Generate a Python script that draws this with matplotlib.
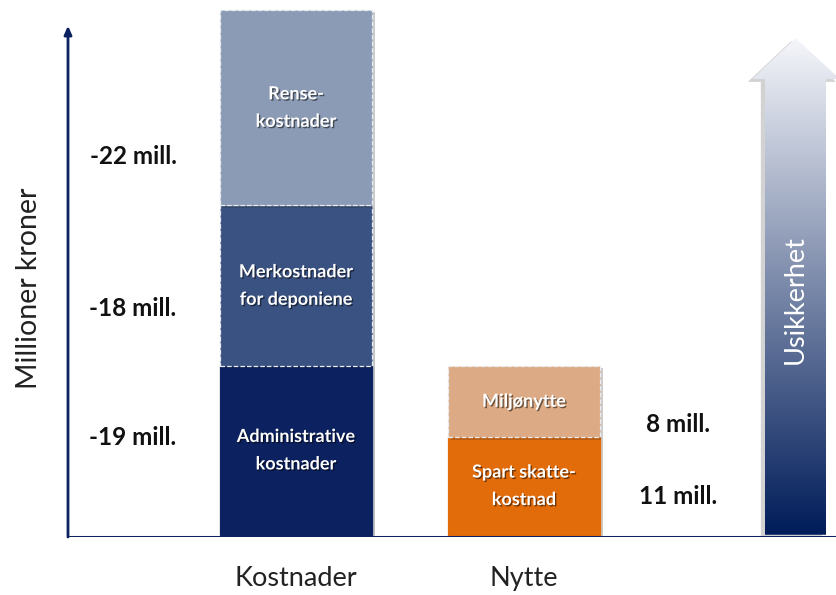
import matplotlib
matplotlib.use("Agg")
import matplotlib.pyplot as plt
import matplotlib.patheffects as pe
from matplotlib.patches import Polygon
import numpy as np

plt.rcParams['font.family'] = ['Lato', 'DejaVu Sans']

# ---- data ----
categories = ["Kostnader", "Nytte"]
cost_segments = ["Administrative\nkostnader", "Merkostnader\nfor deponiene", "Rense-\nkostnader"]
cost_values = [19, 18, 22]
cost_labels = ["-19 mill.", "-18 mill.", "-22 mill."]
cost_colors = ["#0c215f", "#3a5282", "#8c9bb5"]
cost_dashed = [False, True, True]

benefit_segments = ["Spart skatte-\nkostnad", "Miljønytte"]
benefit_values = [11, 8]
benefit_labels = ["11 mill.", "8 mill."]
benefit_colors = ["#e36c0a", "#dcaa84"]
benefit_dashed = [False, True]

ylabel = "Millioner kroner"
arrow_label = "Usikkerhet"

# ---- figure ----
W, H = 836, 595
fig = plt.figure(figsize=(W / 100, H / 100), dpi=100)
ax = fig.add_axes([68 / W, 58 / H, 768 / W, 537 / H])
ax.set_xlim(0, 768 / 228)
ax.set_ylim(-0.25, 537 / 8.9 - 0.25)
ax.axis("off")

navy = "#0c215f"
xpos = [1, 2]
width = 0.667
shadow = [pe.SimplePatchShadow(offset=(2, -2), alpha=0.25), pe.Normal()]
txt_fx = [pe.withSimplePatchShadow(offset=(1, -1), alpha=0.5, shadow_rgbFace="black")]


def stack(x, values, colors, dashed, names):
    bottom = 0
    for v, c, d, n in zip(values, colors, dashed, names):
        bar = ax.bar(x, v, width, bottom=bottom, color=c,
                     edgecolor=("#e8ecf3" if d else c),
                     linestyle=("--" if d else "-"), linewidth=0.9, zorder=3)
        for r in bar:
            r.set_path_effects(shadow)
        ax.text(x, bottom + v / 2, n, ha="center", va="center", color="white",
                fontsize=13, fontweight="bold", linespacing=1.75, zorder=5,
                path_effects=txt_fx)
        bottom += v


stack(xpos[0], cost_values, cost_colors, cost_dashed, cost_segments)
stack(xpos[1], benefit_values, benefit_colors, benefit_dashed, benefit_segments)

# value labels beside the bars
cost_label_y = [10.9, 25.4, 42.5]
for lab, y in zip(cost_labels, cost_label_y):
    ax.text((133 - 68) / 228, y, lab, ha="center", va="center", fontsize=17.5,
            fontweight="bold", color="#111111")
benefit_label_y = [4.3, 12.4]
for lab, y in zip(benefit_labels, benefit_label_y):
    ax.text((678 - 68) / 228, y, lab, ha="center", va="center", fontsize=17.5,
            fontweight="bold", color="#111111")

# axes lines
ax.plot([0, ax.get_xlim()[1]], [-0.25, -0.25], color=navy, lw=2.2, zorder=4,
        solid_capstyle="butt",
        path_effects=[pe.SimpleLineShadow(offset=(0, -2), alpha=0.3), pe.Normal()])
ax.annotate("", xy=(0, 57.2), xytext=(0, -0.25),
            arrowprops=dict(arrowstyle="-|>,head_length=0.5,head_width=0.22",
                            color=navy, lw=2, shrinkA=0, shrinkB=0), zorder=4)

# category labels
for x, c in zip(xpos, categories):
    ax.text(x, -4.9, c, ha="center", va="center", fontsize=19.5, color="#222222",
            clip_on=False)

fig.text(29 / W, 1 - 288 / H, ylabel, rotation=90, ha="center", va="center",
         fontsize=20.5, color="#222222")

# uncertainty arrow with gradient
sx0, sx1 = (765 - 68) / 228, (826 - 68) / 228
hx0, hx1 = (752 - 68) / 228, (840 - 68) / 228
tipx = (sx0 + sx1) / 2
ytip, ybase = 55.8, 51.2
poly = Polygon([[sx0, 0], [sx1, 0], [sx1, ybase], [hx1, ybase], [tipx, ytip],
                [hx0, ybase], [sx0, ybase]], closed=True, facecolor="none",
               edgecolor="none", transform=ax.transData)
ax.add_patch(poly)
shadow_poly = Polygon(poly.get_xy(), closed=True, facecolor="none", edgecolor="none")
ax.add_patch(shadow_poly)
shadow_poly.set_path_effects([pe.SimplePatchShadow(offset=(-3, -2), alpha=0.25)])
shadow_poly.set_facecolor("white")

top_rgb = np.array([0.96, 0.965, 0.98])
bot_rgb = np.array([0.0, 0.11, 0.35])
n = 256
t = np.linspace(0, 1, n)[:, None]
grad = top_rgb * (1 - t) + bot_rgb * t
grad = np.clip(grad, 0, 1)[:, None, :]
im = ax.imshow(grad, extent=[hx0, hx1, 0, ytip], origin="upper", aspect="auto",
               zorder=3, interpolation="bilinear")
im.set_clip_path(poly)
ax.set_xlim(0, 768 / 228)
ax.set_ylim(-0.25, 537 / 8.9 - 0.25)

ax.text(tipx, (535 - 300) / 8.9, arrow_label, rotation=90, ha="center", va="center",
        fontsize=19.5, color="white", zorder=5)

fig.savefig("out.png", dpi=100)
